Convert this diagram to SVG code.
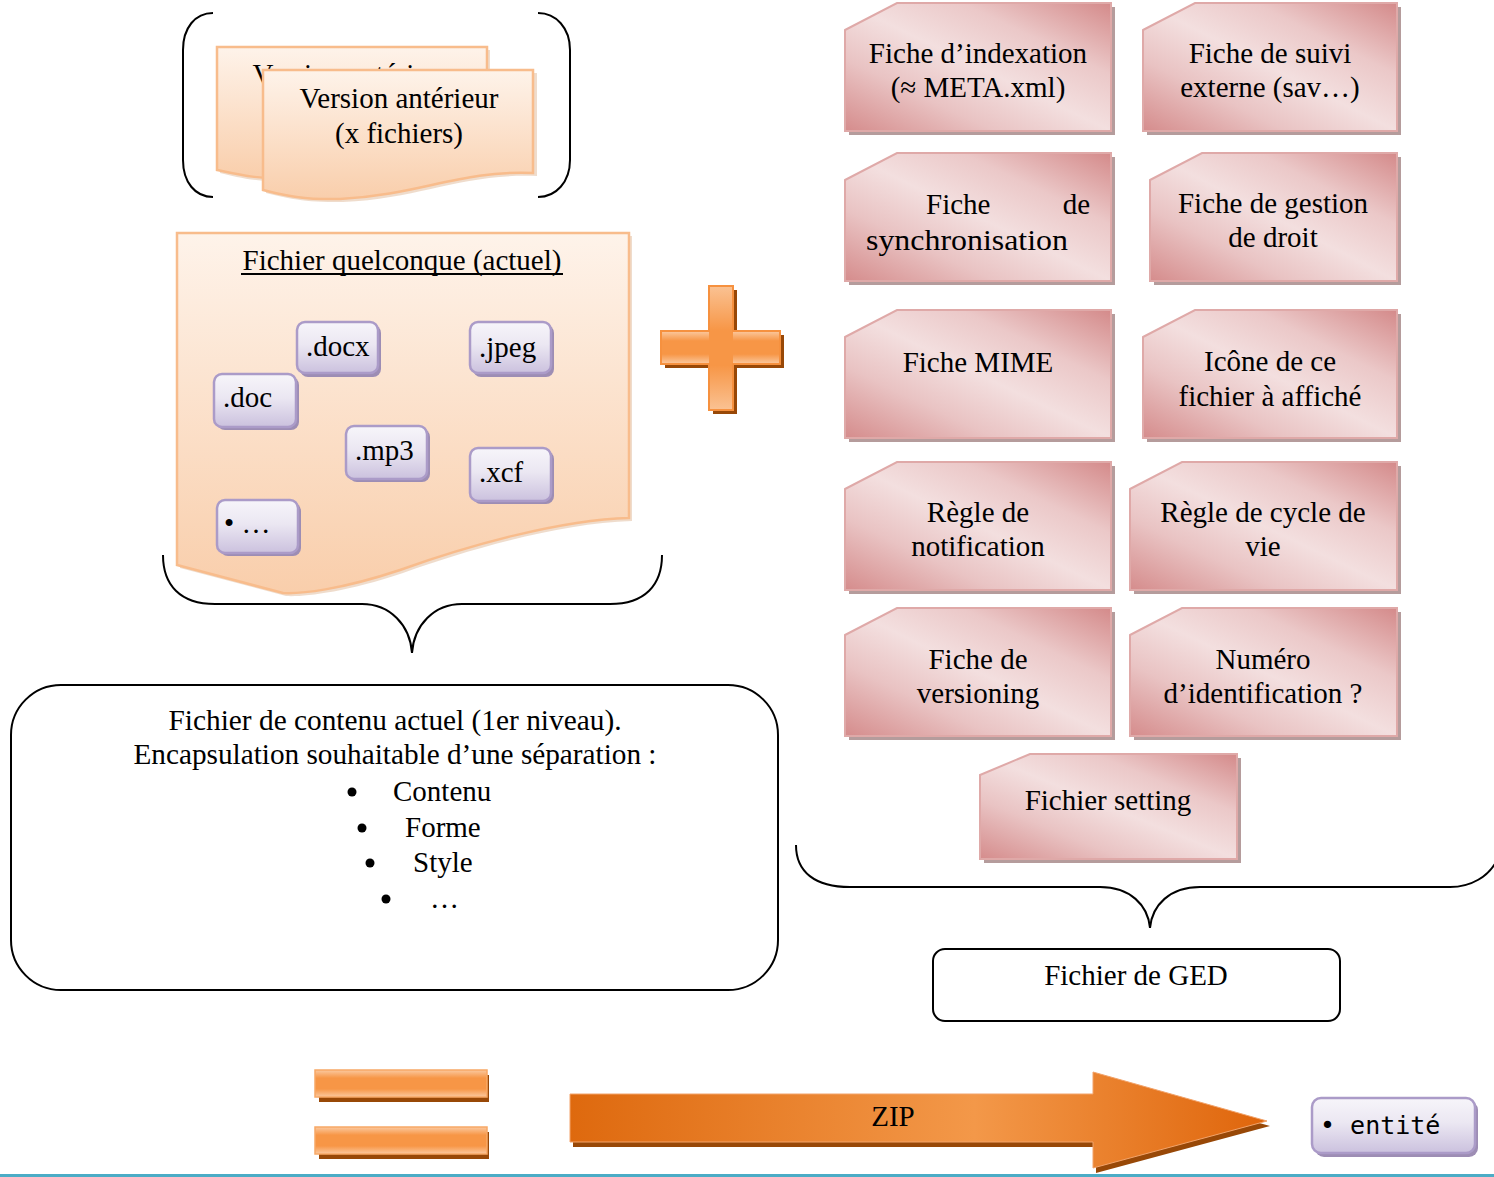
<svg xmlns="http://www.w3.org/2000/svg" width="1494" height="1177" viewBox="0 0 1494 1177">
  <style>
    .t { font-family: "Liberation Serif", "Times New Roman", serif; font-size: 29px; fill: #000; text-anchor: middle; }
    .ts { font-family: "Liberation Serif", "Times New Roman", serif; font-size: 29px; fill: #000; }
    .mono { font-family: "DejaVu Sans Mono", "Liberation Mono", monospace; font-size: 25px; fill: #000; }
    .brace { fill: none; stroke: #000; stroke-width: 2; }
    .card { fill: url(#pinkFill); stroke: #dfa9a8; stroke-width: 2; }
    .cardShadow { fill: #b59c9c; }
    .tag { fill: url(#lilacFill); stroke: #ab9bc8; stroke-width: 2.5; }
    .tagShadow { fill: #9d8db4; }
    .doc { fill: url(#peachFill); stroke: #f8bc8c; stroke-width: 2.5; }
    .docShadow { fill: #e5c4aa; opacity: 0.6; }
    .orangeShadow { fill: #984807; }
    .frame { fill: #fff; stroke: #000; stroke-width: 2; }
  </style>
  <defs>
    <linearGradient id="pinkFill" x1="0" y1="1" x2="1" y2="0">
      <stop offset="0" stop-color="#d58c8c"/>
      <stop offset="0.28" stop-color="#e9c3c3"/>
      <stop offset="0.5" stop-color="#f3dfdf"/>
      <stop offset="0.72" stop-color="#ebc8c8"/>
      <stop offset="1" stop-color="#d48a8a"/>
    </linearGradient>
    <linearGradient id="lilacFill" x1="0" y1="0" x2="0" y2="1">
      <stop offset="0" stop-color="#f7f5fa"/>
      <stop offset="0.45" stop-color="#ebe7f2"/>
      <stop offset="1" stop-color="#cbc1de"/>
    </linearGradient>
    <linearGradient id="peachFill" x1="0" y1="0" x2="0" y2="1">
      <stop offset="0" stop-color="#fef3ea"/>
      <stop offset="1" stop-color="#f9ceab"/>
    </linearGradient>
    <linearGradient id="barV" x1="0" y1="0" x2="0" y2="1">
      <stop offset="0" stop-color="#fac293"/>
      <stop offset="0.36" stop-color="#f79646"/>
      <stop offset="0.64" stop-color="#f79646"/>
      <stop offset="1" stop-color="#fac293"/>
    </linearGradient>
    <linearGradient id="barH" x1="0" y1="0" x2="0" y2="1">
      <stop offset="0" stop-color="#fbc9a0"/>
      <stop offset="0.3" stop-color="#f79646"/>
      <stop offset="0.7" stop-color="#f79646"/>
      <stop offset="1" stop-color="#fbc9a0"/>
    </linearGradient>
    <linearGradient id="zipFill" gradientUnits="userSpaceOnUse" x1="570" y1="0" x2="1267" y2="0">
      <stop offset="0" stop-color="#de690e"/>
      <stop offset="0.58" stop-color="#f39849"/>
      <stop offset="1" stop-color="#df650b"/>
    </linearGradient>
  </defs>

  <!-- earlier versions, stacked documents inside parentheses -->
  <g id="previous-versions">
    <path class="brace" d="M213,13 C195,13 183,28 183,50 V160 C183,182 195,197 213,197"/>
    <path class="brace" d="M538,13 C556,13 570,28 570,50 V160 C570,182 556,197 538,197"/>
    <path class="docShadow" d="M220,50 H490 V156 C420,155 380,172 300,181 C260,183 240,178 220,173 Z"/>
    <path class="doc" d="M217,47 H487 V153 C420,152 380,170 300,178 C260,180 240,175 217,170 Z"/>
    <text class="t" x="352" y="84">Version antérieur</text>
    <path class="docShadow" d="M266,73 H537 V176 C463,173 423,198 343,202 C303,203 283,197 266,193 Z"/>
    <path class="doc" d="M263,70 H533 V173 C460,170 420,195 340,199 C300,200 280,194 263,190 Z"/>
    <text class="t" x="399" y="108">Version antérieur</text>
    <text class="t" x="399" y="143">(x fichiers)</text>
  </g>

  <!-- current file with its possible formats -->
  <g id="current-file">
    <path class="docShadow" d="M180,236 H632 V521 C563,523 473,548 403,573 C343,593 303,597 286,596 L180,568 Z"/>
    <path class="doc" d="M177,233 H629 V518 C560,520 470,545 400,570 C340,590 300,594 283,593 L177,565 Z"/>
    <text class="t" x="402" y="270">Fichier quelconque (actuel)</text>
    <rect x="241" y="273" width="322" height="2" fill="#000"/>
  </g>
  <g id="fmt-docx">
    <rect class="tagShadow" x="300" y="325" width="81" height="52" rx="8"/>
    <rect class="tag" x="297" y="322" width="81" height="51" rx="8"/>
    <text class="ts" x="306" y="356">.docx</text>
  </g>
  <g id="fmt-jpeg">
    <rect class="tagShadow" x="473" y="325" width="81" height="52" rx="8"/>
    <rect class="tag" x="470" y="322" width="81" height="51" rx="8"/>
    <text class="ts" x="479" y="357">.jpeg</text>
  </g>
  <g id="fmt-doc">
    <rect class="tagShadow" x="217" y="377" width="82" height="53" rx="8"/>
    <rect class="tag" x="214" y="374" width="82" height="53" rx="8"/>
    <text class="ts" x="223" y="407">.doc</text>
  </g>
  <g id="fmt-mp3">
    <rect class="tagShadow" x="349" y="429" width="81" height="53" rx="8"/>
    <rect class="tag" x="346" y="426" width="81" height="53" rx="8"/>
    <text class="ts" x="355" y="460">.mp3</text>
  </g>
  <g id="fmt-xcf">
    <rect class="tagShadow" x="473" y="451" width="81" height="53" rx="8"/>
    <rect class="tag" x="470" y="448" width="81" height="53" rx="8"/>
    <text class="ts" x="479" y="482">.xcf</text>
  </g>
  <g id="fmt-more">
    <rect class="tagShadow" x="220" y="503" width="81" height="53" rx="8"/>
    <rect class="tag" x="217" y="500" width="81" height="53" rx="8"/>
    <text class="ts" x="224" y="533">• …</text>
  </g>

  <!-- grouping braces -->
  <g id="connectors">
    <path class="brace" d="M163,555 C163,585 180,604 215,604 H362 C390,604 410,625 412,653 C414,625 434,604 462,604 H610 C645,604 662,585 662,555"/>
    <path class="brace" d="M796,845 C796,872 815,887 850,887 H1100 C1130,887 1148,905 1150,928 C1152,905 1170,887 1200,887 H1450 C1472,887 1488,876 1496,862"/>
  </g>

  <!-- content file description -->
  <g id="content-file">
    <rect class="frame" x="11" y="685" width="767" height="305" rx="50"/>
    <text class="t" x="395" y="730" textLength="453" lengthAdjust="spacingAndGlyphs">Fichier de contenu actuel (1er niveau).</text>
    <text class="t" x="395" y="764" textLength="523" lengthAdjust="spacingAndGlyphs">Encapsulation souhaitable d’une séparation :</text>
    <circle cx="352" cy="792" r="4.5"/>
    <text class="ts" x="393" y="801">Contenu</text>
    <circle cx="362" cy="828" r="4.5"/>
    <text class="ts" x="405" y="837">Forme</text>
    <circle cx="370" cy="863" r="4.5"/>
    <text class="ts" x="413" y="872">Style</text>
    <circle cx="386" cy="899" r="4.5"/>
    <text class="ts" x="430" y="908">…</text>
  </g>

  <!-- plus sign -->
  <g id="plus">
    <path class="orangeShadow" d="M713,290 H737 V335 H784 V368 H737 V414 H713 V368 H665 V335 H713 Z"/>
    <rect x="661" y="331" width="119" height="33" fill="url(#barH)"/>
    <rect x="709" y="286" width="24" height="124" fill="url(#barV)"/>
    <path d="M709,286 H733 V331 H780 V364 H733 V410 H709 V364 H661 V331 H709 Z" fill="none" stroke="#f6913f" stroke-width="2"/>
  </g>

  <!-- metadata cards -->
  <g id="card-indexation">
    <path class="cardShadow" d="M849,34 L901,7 H1115 V135 H849 Z"/>
    <path class="card" d="M845,30 L897,3 H1111 V131 H845 Z"/>
    <text class="t" x="978" y="63">Fiche d’indexation</text>
    <text class="t" x="978" y="97">(≈ META.xml)</text>
  </g>
  <g id="card-suivi">
    <path class="cardShadow" d="M1147,34 L1199,7 H1401 V135 H1147 Z"/>
    <path class="card" d="M1143,30 L1195,3 H1397 V131 H1143 Z"/>
    <text class="t" x="1270" y="63">Fiche de suivi</text>
    <text class="t" x="1270" y="97">externe (sav…)</text>
  </g>
  <g id="card-synchronisation">
    <path class="cardShadow" d="M849,184 L901,157 H1115 V285 H849 Z"/>
    <path class="card" d="M845,180 L897,153 H1111 V281 H845 Z"/>
    <text class="ts" x="926" y="214">Fiche</text>
    <text class="ts" x="1090" y="214" text-anchor="end">de</text>
    <text class="ts" x="866" y="250" textLength="202" lengthAdjust="spacingAndGlyphs">synchronisation</text>
  </g>
  <g id="card-droit">
    <path class="cardShadow" d="M1154,184 L1206,157 H1401 V285 H1154 Z"/>
    <path class="card" d="M1150,180 L1202,153 H1397 V281 H1150 Z"/>
    <text class="t" x="1273" y="213">Fiche de gestion</text>
    <text class="t" x="1273" y="247">de droit</text>
  </g>
  <g id="card-mime">
    <path class="cardShadow" d="M849,341 L901,314 H1115 V442 H849 Z"/>
    <path class="card" d="M845,337 L897,310 H1111 V438 H845 Z"/>
    <text class="t" x="978" y="372">Fiche MIME</text>
  </g>
  <g id="card-icone">
    <path class="cardShadow" d="M1147,341 L1199,314 H1401 V442 H1147 Z"/>
    <path class="card" d="M1143,337 L1195,310 H1397 V438 H1143 Z"/>
    <text class="t" x="1270" y="371">Icône de ce</text>
    <text class="t" x="1270" y="406">fichier à affiché</text>
  </g>
  <g id="card-notification">
    <path class="cardShadow" d="M849,493 L901,466 H1115 V594 H849 Z"/>
    <path class="card" d="M845,489 L897,462 H1111 V590 H845 Z"/>
    <text class="t" x="978" y="522">Règle de</text>
    <text class="t" x="978" y="556">notification</text>
  </g>
  <g id="card-cycle">
    <path class="cardShadow" d="M1134,493 L1186,466 H1401 V594 H1134 Z"/>
    <path class="card" d="M1130,489 L1182,462 H1397 V590 H1130 Z"/>
    <text class="t" x="1263" y="522">Règle de cycle de</text>
    <text class="t" x="1263" y="556">vie</text>
  </g>
  <g id="card-versioning">
    <path class="cardShadow" d="M849,639 L901,612 H1115 V740 H849 Z"/>
    <path class="card" d="M845,635 L897,608 H1111 V736 H845 Z"/>
    <text class="t" x="978" y="669">Fiche de</text>
    <text class="t" x="978" y="703">versioning</text>
  </g>
  <g id="card-identification">
    <path class="cardShadow" d="M1134,639 L1186,612 H1401 V740 H1134 Z"/>
    <path class="card" d="M1130,635 L1182,608 H1397 V736 H1130 Z"/>
    <text class="t" x="1263" y="669">Numéro</text>
    <text class="t" x="1263" y="703">d’identification ?</text>
  </g>
  <g id="card-setting">
    <path class="cardShadow" d="M984,779 L1034,758 H1241 V863 H984 Z"/>
    <path class="card" d="M980,775 L1030,754 H1237 V859 H980 Z"/>
    <text class="t" x="1108" y="810">Fichier setting</text>
  </g>

  <!-- GED file label -->
  <g id="ged-file">
    <rect class="frame" x="933" y="949" width="407" height="72" rx="12"/>
    <text class="t" x="1136" y="985">Fichier de GED</text>
  </g>

  <!-- equals sign -->
  <g id="equals">
    <rect class="orangeShadow" x="319" y="1075" width="170" height="27"/>
    <rect x="315" y="1070" width="172" height="27" fill="url(#barH)" stroke="#f8a866" stroke-width="1.5"/>
    <rect class="orangeShadow" x="319" y="1132" width="170" height="27"/>
    <rect x="315" y="1127" width="172" height="27" fill="url(#barH)" stroke="#f8a866" stroke-width="1.5"/>
  </g>

  <!-- ZIP arrow -->
  <g id="zip-arrow">
    <path class="orangeShadow" d="M573,1099 H1096 V1077 L1270,1126 L1096,1173 V1147 H573 Z"/>
    <path d="M570,1094 H1093 V1072 L1267,1121 L1093,1168 V1142 H570 Z" fill="url(#zipFill)" stroke="#f2a36a" stroke-width="1"/>
    <text class="t" x="893" y="1126">ZIP</text>
  </g>

  <!-- entity tag -->
  <g id="entity">
    <rect class="tagShadow" x="1315" y="1101" width="163" height="56" rx="9"/>
    <rect class="tag" x="1312" y="1098" width="163" height="55" rx="9"/>
    <text class="mono" x="1320" y="1134">• entité</text>
  </g>

  <rect x="0" y="1174" width="1494" height="3" fill="#4bacc6"/>
</svg>
